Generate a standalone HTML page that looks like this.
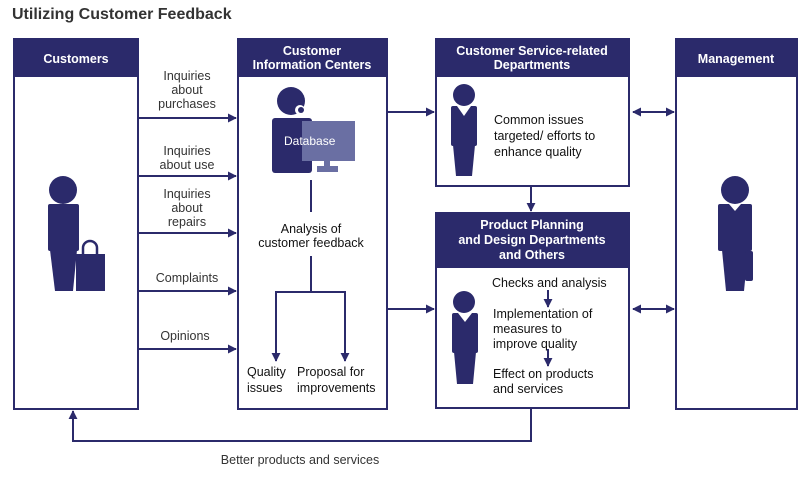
<!DOCTYPE html>
<html><head><meta charset="utf-8"><style>
body{margin:0;background:#fff;width:812px;height:481px;overflow:hidden}
svg{display:block}
text{font-family:"Liberation Sans",sans-serif;}
</style></head><body>
<svg width="812" height="481" viewBox="0 0 812 481" xmlns="http://www.w3.org/2000/svg">
<defs>
<marker id="a" viewBox="0 0 10 10" refX="9" refY="5" markerWidth="9" markerHeight="9" markerUnits="userSpaceOnUse" orient="auto-start-reverse"><path d="M0,0 L10,5 L0,10 z" fill="#2b2a6b"/></marker>
</defs>
<text x="12" y="19" font-size="16" font-weight="bold" fill="#333">Utilizing Customer Feedback</text>
<g fill="#fff" stroke="#2b2a6b" stroke-width="2">
<rect x="14" y="39" width="124" height="370"/>
<rect x="238" y="39" width="149" height="370"/>
<rect x="436" y="39" width="193" height="147"/>
<rect x="436" y="213" width="193" height="195"/>
<rect x="676" y="39" width="121" height="370"/>
</g>
<g fill="#2b2a6b">
<rect x="14" y="39" width="124" height="38"/>
<rect x="238" y="39" width="149" height="38"/>
<rect x="436" y="39" width="193" height="38"/>
<rect x="436" y="213" width="193" height="55"/>
<rect x="676" y="39" width="121" height="38"/>
</g>
<g fill="#fff" font-size="12.5" font-weight="bold" text-anchor="middle">
<text x="76" y="63">Customers</text>
<text x="312" y="55">Customer</text>
<text x="312" y="69">Information Centers</text>
<text x="532" y="55">Customer Service-related</text>
<text x="532" y="69">Departments</text>
<text x="532" y="229">Product Planning</text>
<text x="532" y="244">and Design Departments</text>
<text x="532" y="259">and Others</text>
<text x="736" y="63">Management</text>
</g>
<g stroke="#2b2a6b" stroke-width="2" fill="none" marker-end="url(#a)">
<line x1="138" y1="118" x2="236" y2="118"/>
<line x1="138" y1="176" x2="236" y2="176"/>
<line x1="138" y1="233" x2="236" y2="233"/>
<line x1="138" y1="291" x2="236" y2="291"/>
<line x1="138" y1="349" x2="236" y2="349"/>
<line x1="387" y1="112" x2="434" y2="112"/>
<line x1="387" y1="309" x2="434" y2="309"/>
<line x1="531" y1="186" x2="531" y2="211"/>
<line x1="633" y1="112" x2="674" y2="112" marker-start="url(#a)"/>
<line x1="633" y1="309" x2="674" y2="309" marker-start="url(#a)"/>
<polyline points="531,409 531,441 73,441 73,411"/>
<polyline points="311,292 276,292 276,361"/>
<polyline points="311,292 345,292 345,361"/>
<line x1="548" y1="290" x2="548" y2="307"/>
<line x1="548" y1="349" x2="548" y2="366"/>
</g>
<g stroke="#2b2a6b" stroke-width="2">
<line x1="311" y1="180" x2="311" y2="212"/>
<line x1="311" y1="256" x2="311" y2="292"/>
</g>
<g fill="#333" font-size="12.5" text-anchor="middle">
<text x="187" y="80">Inquiries</text><text x="187" y="94">about</text><text x="187" y="108">purchases</text>
<text x="187" y="155">Inquiries</text><text x="187" y="169">about use</text>
<text x="187" y="198">Inquiries</text><text x="187" y="212">about</text><text x="187" y="226">repairs</text>
<text x="187" y="282">Complaints</text>
<text x="185" y="340">Opinions</text>
<text x="300" y="464">Better products and services</text>
</g>
<g fill="#111" font-size="12.5">
<text x="311" y="233" text-anchor="middle">Analysis of</text>
<text x="311" y="247" text-anchor="middle">customer feedback</text>
<text x="247" y="376">Quality</text><text x="247" y="392">issues</text>
<text x="297" y="376">Proposal for</text><text x="297" y="392">improvements</text>
<text x="494" y="124">Common issues</text>
<text x="494" y="140">targeted/ efforts to</text>
<text x="494" y="156">enhance quality</text>
<text x="492" y="287">Checks and analysis</text>
<text x="493" y="318">Implementation of</text>
<text x="493" y="333">measures to</text>
<text x="493" y="348">improve quality</text>
<text x="493" y="378">Effect on products</text>
<text x="493" y="393">and services</text>
</g>
<g fill="#2b2a6b">
<circle cx="63" cy="190" r="14"/>
<rect x="48" y="204" width="31" height="47" rx="2"/>
<polygon points="50,250 77,250 73,291 55,291"/>
<rect x="76" y="254" width="29" height="37"/>
<path d="M83,255 v-7 a7,7 0 0 1 14,0 v7" fill="none" stroke="#2b2a6b" stroke-width="2.5"/>
<circle cx="735" cy="190" r="14"/>
<rect x="718" y="204" width="34" height="47" rx="2"/>
<polygon points="722,250 748,250 744,291 726,291"/>
<rect x="745" y="251" width="8" height="30" rx="2"/>
<polygon points="729,204 741,204 735,211" fill="#fff"/>
<circle cx="464" cy="95" r="11"/>
<rect x="451" y="106" width="26" height="40" rx="2"/>
<polygon points="453,145 475,145 472,176 456,176"/>
<polygon points="457,106 471,106 464,116" fill="#fff"/>
<circle cx="464" cy="302" r="11"/>
<rect x="452" y="313" width="26" height="40" rx="2"/>
<polygon points="454,352 476,352 473,384 457,384"/>
<polygon points="458,313 472,313 465,322" fill="#fff"/>
<circle cx="291" cy="101" r="14"/>
<rect x="272" y="118" width="40" height="55" rx="3"/>
<circle cx="300" cy="110" r="5" fill="#fff"/>
<circle cx="301" cy="110" r="3"/>
</g>
<rect x="302" y="121" width="53" height="40" fill="#6a6fa3"/>
<rect x="324" y="161" width="6" height="5" fill="#6a6fa3"/>
<rect x="317" y="166" width="21" height="6" fill="#6a6fa3"/>
<text x="284" y="145" font-size="12" fill="#fff" font-family="Liberation Sans">Database</text>
</svg>
</body></html>
